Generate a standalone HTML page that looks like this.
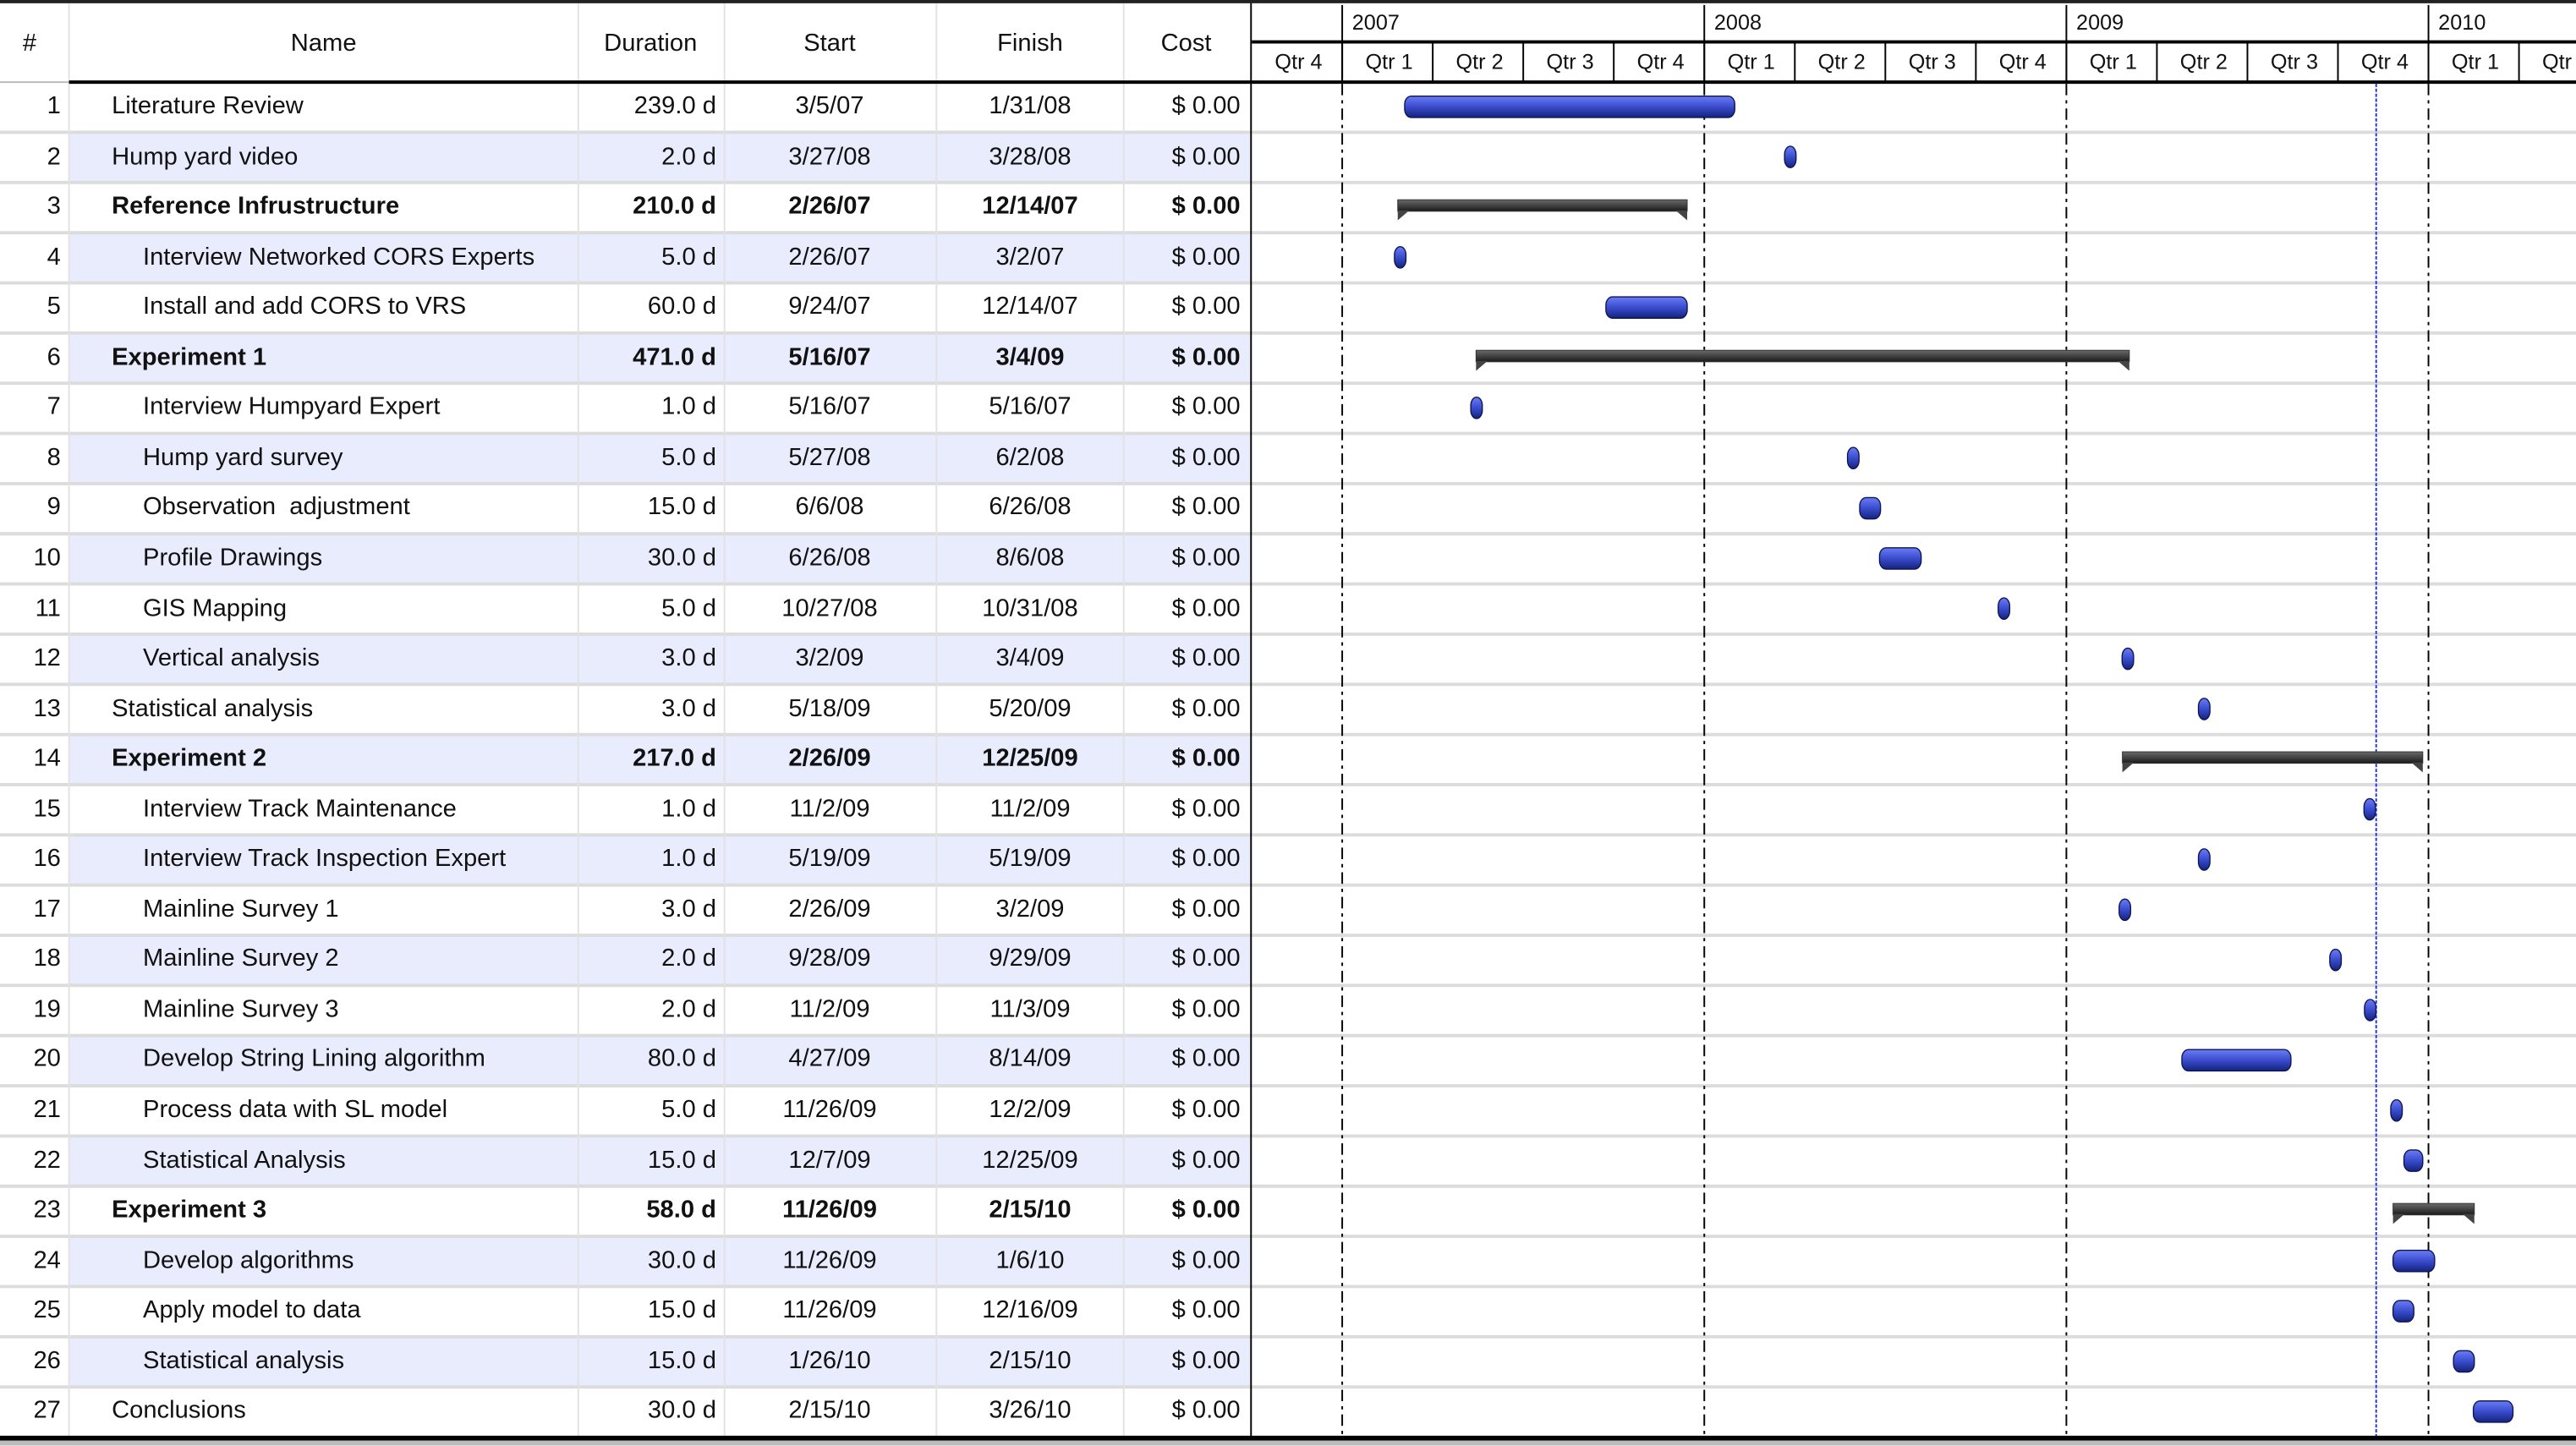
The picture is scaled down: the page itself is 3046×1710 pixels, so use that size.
<!DOCTYPE html>
<html><head><meta charset="utf-8">
<style>
html,body{margin:0;padding:0;background:#fff;overflow:hidden;}
#wrap{position:absolute;left:0;top:0;width:1568px;height:879.2px;transform:scale(1.94260);transform-origin:0 0;font-family:"Liberation Sans",sans-serif;color:#111;}
.abs{position:absolute;}
.t{position:absolute;font-size:15px;white-space:pre;line-height:30px;}
</style></head>
<body>
<div id="wrap">
<svg id="svg" class="abs" width="1568" height="880" style="left:0;top:0">
<defs>
<linearGradient id="gb" x1="0" y1="0" x2="0" y2="1">
<stop offset="0" stop-color="#6a7cf5"/><stop offset="0.5" stop-color="#3a4ccc"/><stop offset="1" stop-color="#14237e"/>
</linearGradient>
<linearGradient id="gs" x1="0" y1="0" x2="0" y2="1">
<stop offset="0" stop-color="#6a6a6a"/><stop offset="1" stop-color="#1a1a1a"/>
</linearGradient>
</defs>
</svg>
</div>
<script>
const ids=[1,2,3,4,5,6,7,8,9,10,11,12,13,14,15,16,17,18,19,20,21,22,23,24,25,26,27];
const names=["Literature Review","Hump yard video","Reference Infrustructure","Interview Networked CORS Experts","Install and add CORS to VRS","Experiment 1","Interview Humpyard Expert","Hump yard survey","Observation  adjustment","Profile Drawings","GIS Mapping","Vertical analysis","Statistical analysis","Experiment 2","Interview Track Maintenance","Interview Track Inspection Expert","Mainline Survey 1","Mainline Survey 2","Mainline Survey 3","Develop String Lining algorithm","Process data with SL model","Statistical Analysis","Experiment 3","Develop algorithms","Apply model to data","Statistical analysis","Conclusions"];
const durations=["239.0 d","2.0 d","210.0 d","5.0 d","60.0 d","471.0 d","1.0 d","5.0 d","15.0 d","30.0 d","5.0 d","3.0 d","3.0 d","217.0 d","1.0 d","1.0 d","3.0 d","2.0 d","2.0 d","80.0 d","5.0 d","15.0 d","58.0 d","30.0 d","15.0 d","15.0 d","30.0 d"];
const starts=["3/5/07","3/27/08","2/26/07","2/26/07","9/24/07","5/16/07","5/16/07","5/27/08","6/6/08","6/26/08","10/27/08","3/2/09","5/18/09","2/26/09","11/2/09","5/19/09","2/26/09","9/28/09","11/2/09","4/27/09","11/26/09","12/7/09","11/26/09","11/26/09","11/26/09","1/26/10","2/15/10"];
const finishes=["1/31/08","3/28/08","12/14/07","3/2/07","12/14/07","3/4/09","5/16/07","6/2/08","6/26/08","8/6/08","10/31/08","3/4/09","5/20/09","12/25/09","11/2/09","5/19/09","3/2/09","9/29/09","11/3/09","8/14/09","12/2/09","12/25/09","2/15/10","1/6/10","12/16/09","2/15/10","3/26/10"];
const costs=["$ 0.00","$ 0.00","$ 0.00","$ 0.00","$ 0.00","$ 0.00","$ 0.00","$ 0.00","$ 0.00","$ 0.00","$ 0.00","$ 0.00","$ 0.00","$ 0.00","$ 0.00","$ 0.00","$ 0.00","$ 0.00","$ 0.00","$ 0.00","$ 0.00","$ 0.00","$ 0.00","$ 0.00","$ 0.00","$ 0.00","$ 0.00"];
const summaryRows=[3,6,14,23];
const indented=[4,5,7,8,9,10,11,12,15,16,17,18,19,20,21,22,24,25,26];
const years=["2007","2008","2009","2010"];
const todayDate="11/9/09";

const NS="http://www.w3.org/2000/svg";
const svg=document.getElementById('svg');
const wrap=document.getElementById('wrap');
const HDR=50, RH=30.55, GX=762, W=1568;
const T0=Date.UTC(2007,0,1), PXY=220.4;
function pd(s){const p=s.split('/');return Date.UTC(2000+ +p[2],+p[0]-1,+p[1]);}
function xd(t){return 817+(t-T0)/86400000/365.25*PXY;}
function el(tag,a){const e=document.createElementNS(NS,tag);for(const k in a)e.setAttribute(k,a[k]);svg.appendChild(e);return e;}
function txt(s,x,y,align,bold,w){const d=document.createElement('div');d.className='t';d.textContent=s;
 d.style.top=y+'px';if(bold)d.style.fontWeight='bold';
 if(align==='right'){d.style.right=(W-x)+'px';}
 else if(align==='center'){d.style.left=(x-w/2)+'px';d.style.width=w+'px';d.style.textAlign='center';}
 else d.style.left=x+'px';
 wrap.appendChild(d);return d;}

const cols=[0,42,352,441,570,684,761];
ids.forEach((id,i)=>{const y=HDR+i*RH;
 if(i%2===1){const r=el('rect',{x:42,y:y,width:719,height:RH,fill:'#e8ecfd'});
  }
});
for(let i=1;i<27;i++){const y=HDR+i*RH;el('line',{x1:0,y1:y,x2:W,y2:y,stroke:'#dcdcdc','stroke-width':2});}
cols.slice(1,6).forEach(c=>el('line',{x1:c,y1:2,x2:c,y2:875,stroke:'#e2e2e2','stroke-width':1}));
el('line',{x1:761.5,y1:0,x2:761.5,y2:876,stroke:'#000','stroke-width':1});
el('line',{x1:0,y1:1,x2:W,y2:1,stroke:'#222','stroke-width':2});
el('line',{x1:42,y1:50,x2:W,y2:50,stroke:'#000','stroke-width':2});
el('line',{x1:0,y1:50,x2:42,y2:50,stroke:'#bbb','stroke-width':1});
el('line',{x1:GX,y1:25.5,x2:W,y2:25.5,stroke:'#000','stroke-width':2});
const yx=[817,1037.4,1257.8,1478.2];
for(let q=-1;q<14;q++){const x=817+q*PXY/4;
 if(q>=0)el('line',{x1:x,y1:26,x2:x,y2:50,stroke:'#000','stroke-width':1});
 const lab=document.createElement('div');lab.className='t';lab.style.fontSize='13px';lab.style.top='24px';lab.style.lineHeight='28px';
 lab.style.left=(x+1)+'px';lab.style.width=(PXY/4)+'px';lab.style.textAlign='center';
 lab.textContent='Qtr '+(((q%4)+4)%4+1);
 wrap.appendChild(lab);}
years.forEach((yr,i)=>{const x=yx[i];
 el('line',{x1:x,y1:3,x2:x,y2:50,stroke:'#000','stroke-width':1});
 el('line',{x1:x,y1:51,x2:x,y2:875,stroke:'#000','stroke-width':1,'stroke-dasharray':'7,3,2,3'});
 const d=txt(yr,x+6,1,'left',false);d.style.fontSize='13px';d.style.lineHeight='25px';
 });
const tx=xd(pd(todayDate));
el('line',{x1:tx,y1:51,x2:tx,y2:875,stroke:'#2233ee','stroke-width':1,'stroke-dasharray':'2,1'});
el('rect',{x:0,y:874,width:W,height:3,fill:'#000'});
el('rect',{x:0,y:877,width:W,height:3,fill:'#bbb'});

[['#',18,'center',30],['Name',197,'center',200],['Duration',396,'center',89],['Start',505,'center',120],['Finish',627,'center',114],['Cost',722,'center',77]].forEach(h=>{
 const d=txt(h[0],h[1],12,'center',false,h[3]);});

ids.forEach((id,i)=>{const y=HDR+i*RH;const b=summaryRows.includes(id);
 let d=txt(String(id),37,y,'right',false);
 d=txt(names[i],indented.includes(id)?87:68,y,'left',b);
 d=txt(durations[i],436,y,'right',b);
 d=txt(starts[i],505,y,'center',b,128);
 d=txt(finishes[i],627,y,'center',b,114);
 d=txt(costs[i],755,y,'right',b);
 const x1=xd(pd(starts[i])), x2=xd(pd(finishes[i])+86400000);
 if(b){
  const r=el('rect',{x:x1,y:y+10.5,width:x2-x1,height:7,fill:'url(#gs)',stroke:'#333','stroke-width':0.5});
  
  el('polygon',{points:`${x1},${y+17} ${x1+7},${y+17} ${x1},${y+23}`,fill:'#444'});
  el('polygon',{points:`${x2},${y+17} ${x2-7},${y+17} ${x2},${y+23}`,fill:'#444'});
 } else {
  let w=x2-x1, xs=x1; if(w<7){xs=(x1+x2)/2-3.5;w=7;}
  const r=el('rect',{x:xs,y:y+8.5,width:w,height:13,rx:Math.min(4,w/2),ry:5,fill:'url(#gb)',stroke:'#0d1550','stroke-width':0.7});
  
 }
});
</script>
</body></html>
